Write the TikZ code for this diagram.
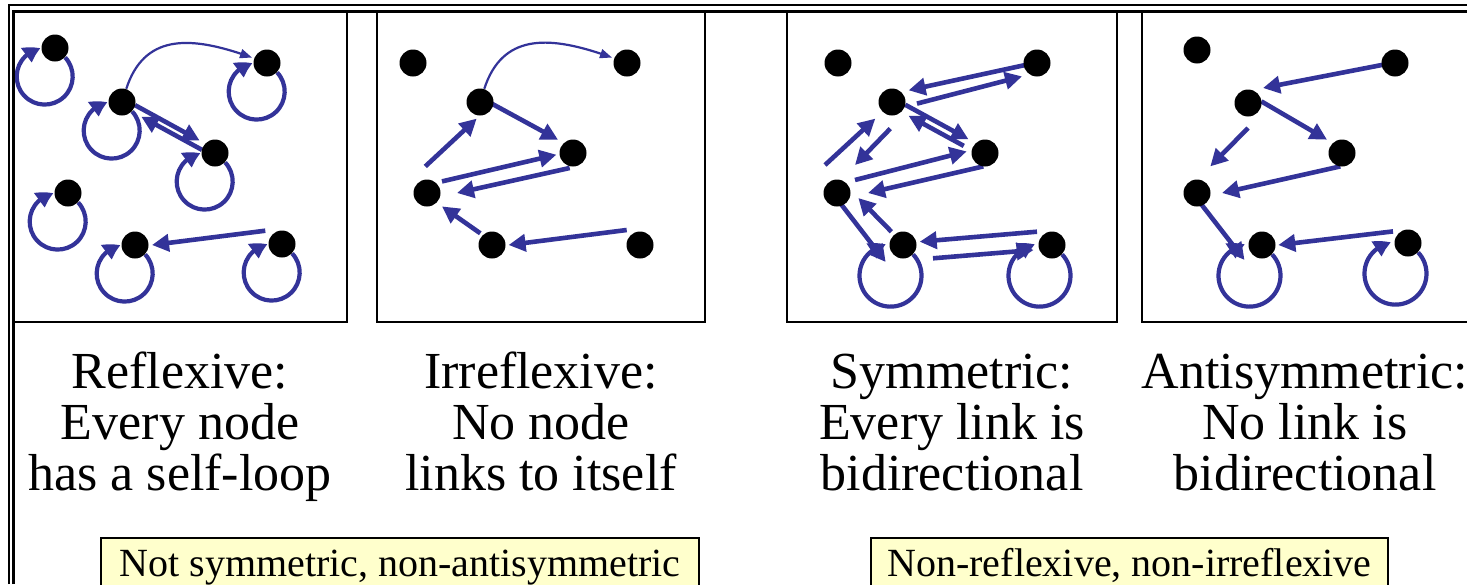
\documentclass[tikz,border=0pt]{standalone}
\usepackage{fontspec}
\setmainfont{LiberationSerif-Regular.ttf}
\usetikzlibrary{arrows.meta,calc,bending}
\definecolor{linkblue}{RGB}{51,51,153}
\definecolor{notefill}{RGB}{255,255,204}
\pgfdeclarelayer{back}
\pgfdeclarelayer{links}
\pgfsetlayers{back,links,main}

\tikzset{
  dot/.style={circle, fill=black, inner sep=0pt, minimum size=13.5pt},
  link/.style={draw=linkblue, line width=2.3pt, -{Triangle[length=8.5pt,width=8.5pt]}},
  selfl/.style={draw=linkblue, line width=2.1pt, -{Triangle[length=8pt,width=8.5pt,bend]}},
  hop/.style={draw=linkblue, line width=1.1pt, -{Triangle[length=6pt,width=4.5pt]}, shorten >=1pt},
  panel/.style={draw=black, line width=1pt},
  caption/.style={font=\rmfamily\fontsize{26}{25.5}\selectfont, anchor=base, inner sep=0pt},
  note/.style={draw=black, line width=1pt, fill=notefill, inner sep=0pt,
    font=\rmfamily\fontsize{20}{24}\selectfont, text height=14pt, text depth=4.5pt,
    minimum height=29pt, anchor=north west},
}
% straight link between two dots, end points given as offsets from the dot centres
\newcommand\lnk[4]{\draw[link] ([shift={(#2)}]#1.center) -- ([shift={(#4)}]#3.center);}
% self-loop hanging below-left of a dot
\newcommand\selfloop[2]{\draw[selfl] (#1.-43) arc[start angle=43, delta angle=-305, radius=#2];}

\begin{document}
\begin{tikzpicture}[x=0.5pt, y=0.5pt]
\useasboundingbox (0,0) rectangle (1467,-584);
\begin{pgfonlayer}{back}
  \fill[white] (0,0) rectangle (1467,-584);
\end{pgfonlayer}

% double frame along the top and left edges
\draw[line width=1pt] (9,-584) -- (9,-4.5) -- (1467,-4.5);
\draw[line width=1.5pt] (13,-584) -- (13,-11.5) -- (1467,-11.5);

% panels
\draw[panel] (13,-11.5) rectangle (347,-322);
\draw[panel] (377,-11.5) rectangle (705,-322);
\draw[panel] (787,-11.5) rectangle (1117,-322);
\draw[panel] (1142,-11.5) rectangle (1480,-322);

% reflexive
\node[dot] (p1a) at (55,-48) {};
\node[dot] (p1b) at (267,-63) {};
\node[dot] (p1c) at (122,-102) {};
\node[dot] (p1d) at (215,-153) {};
\node[dot] (p1e) at (68,-193) {};
\node[dot] (p1f) at (135,-245) {};
\node[dot] (p1g) at (282,-244) {};

% irreflexive
\node[dot] (p2a) at (413,-63) {};
\node[dot] (p2b) at (627,-63) {};
\node[dot] (p2c) at (480,-102) {};
\node[dot] (p2d) at (573,-153) {};
\node[dot] (p2e) at (427,-193) {};
\node[dot] (p2f) at (492,-245) {};
\node[dot] (p2g) at (640,-245) {};

% symmetric
\node[dot] (p3a) at (838,-63) {};
\node[dot] (p3b) at (1037,-63) {};
\node[dot] (p3c) at (892,-102) {};
\node[dot] (p3d) at (985,-153) {};
\node[dot] (p3e) at (837,-193) {};
\node[dot] (p3f) at (903,-245) {};
\node[dot] (p3g) at (1052,-245) {};

% antisymmetric
\node[dot] (p4a) at (1197,-50) {};
\node[dot] (p4b) at (1395,-63) {};
\node[dot] (p4c) at (1248,-103) {};
\node[dot] (p4d) at (1342,-153) {};
\node[dot] (p4e) at (1197,-193) {};
\node[dot] (p4f) at (1262,-245) {};
\node[dot] (p4g) at (1408,-243) {};

\begin{pgfonlayer}{links}
  % reflexive
  \draw[hop] (p1c) to[out=72, in=160, looseness=1.2] (p1b);
  \lnk{p1c}{13.1,-3.2}{p1d}{-15.4,12.5}
  \lnk{p1d}{-13.1,3.2}{p1c}{19.3,-14.7}
  \lnk{p1g}{-16.7,13.3}{p1f}{17,0}
  \foreach \n in {p1a,p1b,p1c,p1d,p1e,p1f,p1g} {\selfloop{\n}{28}}

  % irreflexive
  \draw[hop] (p2c) to[out=72, in=160, looseness=1.2] (p2b);
  \lnk{p2e}{-1.7,26.6}{p2c}{-3.3,-16.6}
  \lnk{p2c}{11.7,-1.6}{p2d}{-15,13.3}
  \lnk{p2e}{15,11.6}{p2d}{-16.6,-1.7}
  \lnk{p2d}{-3.3,-15}{p2e}{30,0}
  \lnk{p2f}{-11.7,11.7}{p2e}{15,-13.4}
  \lnk{p2g}{-13.3,15}{p2f}{16.6,0}

  % symmetric
  \lnk{p3b}{-10.3,-1.7}{p3c}{16.6,11.7}
  \lnk{p3c}{25,-1.6}{p3b}{-15,-13.4}
  \lnk{p3c}{13.3,-2.8}{p3d}{-16.5,13.7}
  \lnk{p3d}{-21.2,7.1}{p3c}{16.5,-13.7}
  \lnk{p3e}{-12,28}{p3c}{-16.7,-16.6}
  \lnk{p3c}{-1.7,-26.6}{p3e}{18,28}
  \lnk{p3e}{18,13}{p3d}{-18.3,1.6}
  \lnk{p3d}{-1.7,-13.4}{p3e}{31,0}
  \lnk{p3e}{4.7,-12}{p3f}{-17.3,-17}
  \lnk{p3f}{-11.6,13.3}{p3e}{21.3,-5}
  \lnk{p3g}{-15,13.3}{p3f}{16.7,3.3}
  \lnk{p3f}{30,-13.3}{p3g}{-18.4,-5}
  \selfloop{p3f}{31}
  \selfloop{p3g}{31}

  % antisymmetric
  \lnk{p4b}{-11.7,-1.7}{p4c}{15,15}
  \lnk{p4c}{13.4,1.6}{p4d}{-15,13.3}
  \lnk{p4c}{0,-25}{p4e}{13.3,26.6}
  \lnk{p4d}{-1.7,-13.4}{p4e}{25,0}
  \lnk{p4e}{3.3,-10}{p4f}{-17.5,-15}
  \lnk{p4g}{-15,11.6}{p4f}{16.3,0}
  \selfloop{p4f}{31}
  \selfloop{p4g}{31}
\end{pgfonlayer}

% captions
\node[caption] (c1a) at (180,-388) {Reflexive:};
\node[caption] (c1b) at (180,-439.5) {Every node};
\node[caption] (c1c) at (180,-490.5) {has a self-loop};
\node[caption] (c2a) at (541,-388) {Irreflexive:};
\node[caption] (c2b) at (541,-439.5) {No node};
\node[caption] (c2c) at (541,-490.5) {links to itself};
\node[caption] (c3a) at (952,-388) {Symmetric:};
\node[caption] (c3b) at (952,-439.5) {Every link is};
\node[caption] (c3c) at (952,-490.5) {bidirectional};
\node[caption] (c4a) at (1305,-388) {Antisymmetric:};
\node[caption] (c4b) at (1305,-439.5) {No link is};
\node[caption] (c4c) at (1305,-490.5) {bidirectional};

% notes
\node[note, minimum width=299pt] (n1) at (100,-537) {Not symmetric, non-antisymmetric};
\node[note, minimum width=258.5pt] (n2) at (870,-537) {Non-reflexive, non-irreflexive};
\end{tikzpicture}
\end{document}
